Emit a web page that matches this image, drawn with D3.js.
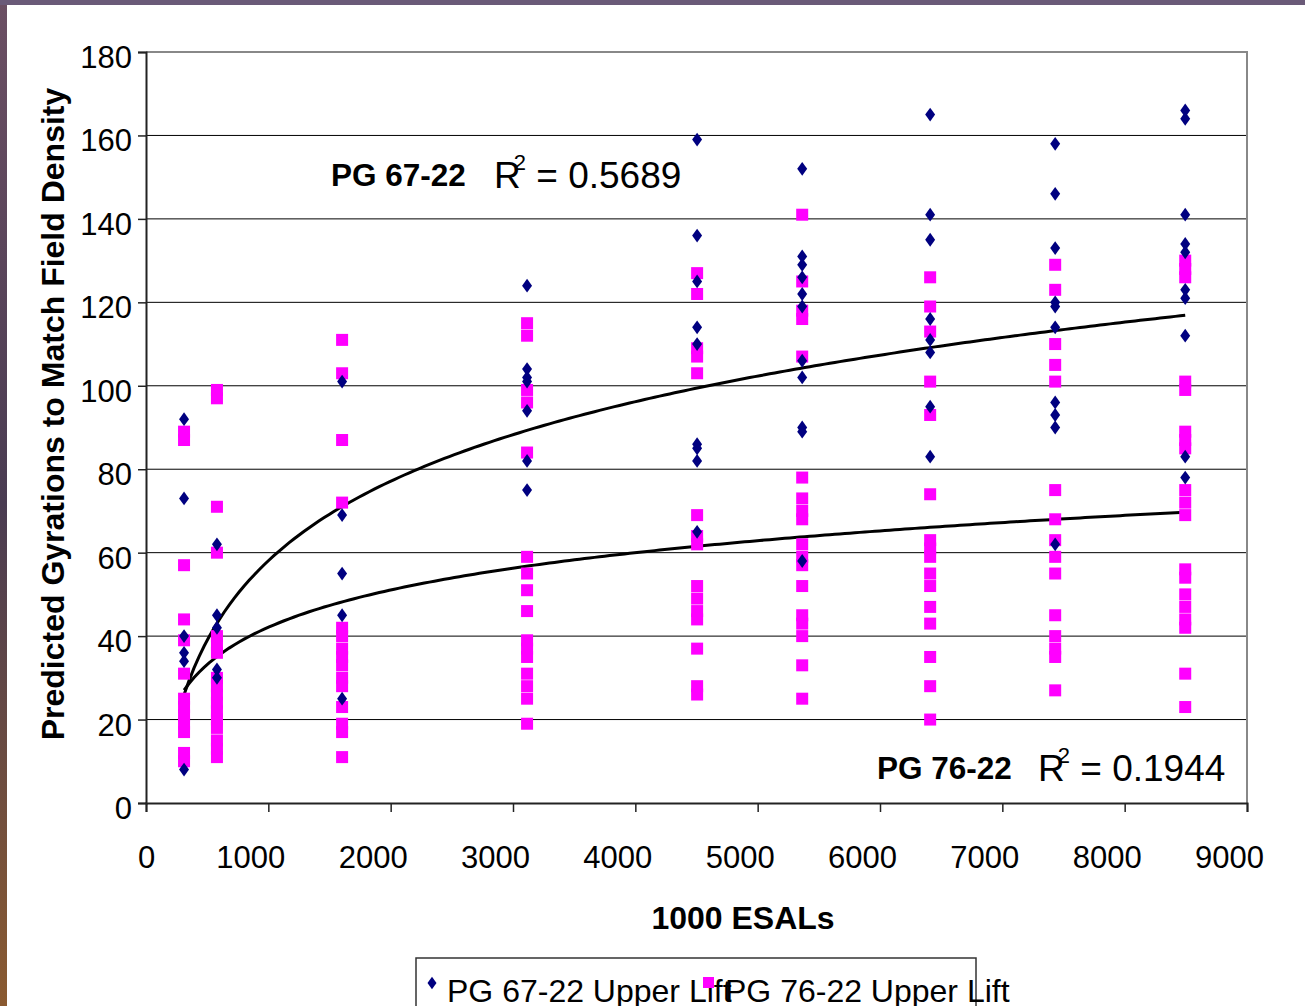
<!DOCTYPE html>
<html lang="en">
<head>
<meta charset="UTF-8">
<title>Predicted Gyrations vs ESALs</title>
<script src="https://cdn.jsdelivr.net/npm/d3@7"></script>
<style>
  html, body { margin: 0; padding: 0; background: #fff; }
  svg { display: block; font-family: "Liberation Sans", Arial, sans-serif; }
</style>
</head>
<body>
<svg id="chart" width="1305" height="1006"></svg>
<script>
// ESAL position (x1000) of each test column
const esals = [311, 580, 1603, 3115, 4505, 5364, 6410, 7432, 8495];

// PG 67-22 Upper Lift, gyrations per column
const pg67 = [
  [92, 73, 40, 36, 34, 8],
  [62, 45, 42, 32, 30],
  [101, 69, 55, 45, 25],
  [124, 104, 102, 101, 94, 82, 75],
  [159, 136, 125, 114, 110, 86, 85, 82, 65],
  [152, 131, 129, 126, 122, 119, 106, 102, 90, 89, 58],
  [165, 141, 135, 116, 111, 108, 95, 83],
  [158, 146, 133, 120, 119, 114, 96, 93, 90, 62],
  [166, 164, 141, 134, 132, 123, 121, 112, 83, 78]
];

// PG 76-22 Upper Lift, gyrations per column
const pg76 = [
  [89, 87, 57, 44, 39, 31, 25, 23, 21, 19, 17, 12, 10],
  [99, 97, 71, 60, 40, 38, 36, 30, 28, 26, 24, 22, 20, 18, 15, 13, 11],
  [111, 103, 87, 72, 42, 40, 37, 35, 33, 30, 28, 23, 19, 17, 11],
  [115, 112, 99, 96, 84, 59, 55, 51, 46, 39, 37, 35, 31, 28, 25, 19],
  [127, 122, 109, 107, 103, 69, 64, 62, 52, 49, 46, 44, 37, 28, 26],
  [141, 125, 118, 116, 107, 78, 73, 70, 68, 62, 59, 57, 52, 45, 43, 40, 33, 25],
  [126, 119, 113, 101, 93, 74, 63, 61, 59, 55, 52, 47, 43, 35, 28, 20],
  [129, 123, 110, 105, 101, 75, 68, 63, 59, 55, 45, 40, 37, 35, 27],
  [130, 128, 126, 101, 99, 89, 87, 85, 75, 72, 69, 56, 54, 50, 47, 44, 42, 31, 23]
];

// log trendlines y = a*ln(x) + b
const trend67 = { a: 27.5, b: -131.9, r2: "0.5689" };
const trend76 = { a: 12.9, b: -47.0, r2: "0.1944" };

const xTicks = [0, 1000, 2000, 3000, 4000, 5000, 6000, 7000, 8000, 9000];
const yTicks = [0, 20, 40, 60, 80, 100, 120, 140, 160, 180];

const svg = d3.select("#chart");
const W = 1305, H = 1006;
const plot = { left: 146, right: 1247, top: 52, bottom: 803 };

// textured frame strips at top/left edge
const grad = svg.append("defs").append("linearGradient")
  .attr("id", "edge").attr("x1", 0).attr("y1", 0).attr("x2", 0).attr("y2", 1);
grad.append("stop").attr("offset", "0%").attr("stop-color", "#6b4f63");
grad.append("stop").attr("offset", "50%").attr("stop-color", "#4a3c52");
grad.append("stop").attr("offset", "100%").attr("stop-color", "#8a5a30");
svg.append("rect").attr("width", W).attr("height", H).attr("fill", "#fff");
svg.append("rect").attr("x", 0).attr("y", 0).attr("width", 7).attr("height", H).attr("fill", "url(#edge)");
svg.append("rect").attr("x", 0).attr("y", 0).attr("width", W).attr("height", 5).attr("fill", "#6a5a78");

const x = d3.scaleLinear().domain([0, 9000]).range([plot.left, plot.right]);
const y = d3.scaleLinear().domain([0, 180]).range([plot.bottom, plot.top]);

// gridlines
svg.append("g").selectAll("line")
  .data(yTicks.filter(d => d > 0 && d < 180))
  .enter().append("line")
  .attr("x1", plot.left).attr("x2", plot.right)
  .attr("y1", d => y(d)).attr("y2", d => y(d))
  .attr("stroke", "#000").attr("stroke-width", 1);

// plot border (top / right)
svg.append("path")
  .attr("d", `M${plot.left},${y(180)}H${plot.right}V${plot.bottom}`)
  .attr("fill", "none").attr("stroke", "#888").attr("stroke-width", 2);

// axes
const yAxis = svg.append("g")
  .attr("transform", `translate(${plot.left},0)`)
  .call(d3.axisLeft(y).tickValues(yTicks).tickSize(8).tickPadding(6).tickFormat(d3.format("d")));
const xAxis = svg.append("g")
  .attr("transform", `translate(0,${plot.bottom})`)
  .call(d3.axisBottom(x).tickValues(xTicks).tickSize(9).tickPadding(34).tickFormat(d3.format("d")));

[yAxis, xAxis].forEach(g => {
  g.select(".domain").attr("stroke", "#222").attr("stroke-width", 2);
  g.selectAll(".tick line").attr("stroke", "#222").attr("stroke-width", 1.5);
  g.selectAll(".tick text")
    .attr("fill", "#000").attr("font-size", 31)
    .attr("font-family", "'Liberation Sans', Arial, sans-serif");
});
yAxis.selectAll(".tick text").attr("dy", "0.5em");
xAxis.selectAll(".tick text").attr("dx", d => -6 * (String(d).length - 1));

// axis titles
svg.append("text")
  .attr("transform", `translate(64,414) rotate(-90)`)
  .attr("text-anchor", "middle")
  .attr("font-size", 32).attr("font-weight", "bold")
  .text("Predicted Gyrations to Match Field Density");
svg.append("text")
  .attr("x", 743).attr("y", 929)
  .attr("text-anchor", "middle")
  .attr("font-size", 32).attr("font-weight", "bold")
  .text("1000 ESALs");

// trendlines
function trendPath(t) {
  const pts = d3.range(0, 201).map(i => {
    const xv = esals[0] + (esals[esals.length - 1] - esals[0]) * i / 200;
    return [xv, t.a * Math.log(xv) + t.b];
  });
  return d3.line().x(d => x(d[0])).y(d => y(d[1]))(pts);
}
[trend67, trend76].forEach(t => {
  svg.append("path").attr("d", trendPath(t))
    .attr("fill", "none").attr("stroke", "#000").attr("stroke-width", 3);
});

// flatten columns into points
const flat = (cols) => cols.flatMap((vals, i) => vals.map(v => ({ x: esals[i], y: v })));
const diamond = d3.symbol().type(d3.symbolDiamond).size(55);

// PG 76-22 squares
svg.append("g").selectAll("rect")
  .data(flat(pg76)).enter().append("rect")
  .attr("x", d => x(d.x) - 6).attr("y", d => y(d.y) - 6)
  .attr("width", 12).attr("height", 12)
  .attr("fill", "#ff00ff");

// PG 67-22 diamonds
svg.append("g").selectAll("path")
  .data(flat(pg67)).enter().append("path")
  .attr("d", diamond)
  .attr("transform", d => `translate(${x(d.x)},${y(d.y)}) scale(1.25,1)`)
  .attr("fill", "#000080");

// R-squared annotations
function annotate(label, t, lx, rx, by) {
  svg.append("text").attr("x", lx).attr("y", by)
    .attr("font-size", 31.5).attr("font-weight", "bold").text(label);
  const r = svg.append("text").attr("x", rx).attr("y", by + 2).attr("font-size", 37);
  r.append("tspan").text("R");
  r.append("tspan").attr("font-size", 22).attr("dx", -7).attr("dy", -18).text("2");
  r.append("tspan").attr("dy", 18).text(" = " + t.r2);
}
annotate("PG 67-22", trend67, 331, 494, 186);
annotate("PG 76-22", trend76, 877, 1038, 779);

// legend
const lg = svg.append("g");
lg.append("rect").attr("x", 416).attr("y", 958).attr("width", 560).attr("height", 60)
  .attr("fill", "#fff").attr("stroke", "#333").attr("stroke-width", 1.5);
lg.append("path").attr("d", diamond.size(45)())
  .attr("transform", "translate(432,983) scale(1.25,1)").attr("fill", "#000080");
lg.append("text").attr("x", 447).attr("y", 1002).attr("font-size", 32).text("PG 67-22 Upper Lift");
lg.append("rect").attr("x", 703).attr("y", 977).attr("width", 11).attr("height", 11).attr("fill", "#ff00ff");
lg.append("text").attr("x", 725).attr("y", 1002).attr("font-size", 32).text("PG 76-22 Upper Lift");
</script>
</body>
</html>
